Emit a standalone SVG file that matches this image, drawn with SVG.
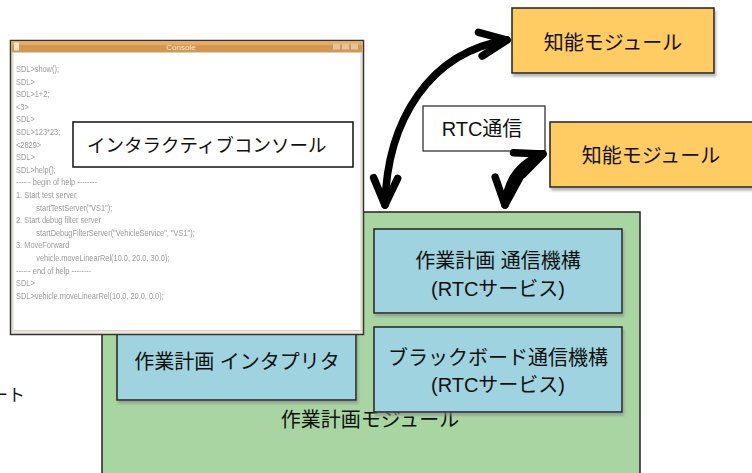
<svg xmlns="http://www.w3.org/2000/svg" width="752" height="473" viewBox="0 0 752 473">
<style>
.jp{font-family:"Liberation Sans","Noto Sans CJK JP",sans-serif;fill:#111;}
.lbl{font-size:20px;text-anchor:middle;}
.box{stroke:#222;stroke-width:1.5;}
.orange{fill:#FFCB63;}
.blue{fill:#A0D3E0;}
.green{fill:#A8D5A2;}
.con{font-family:"Liberation Sans",sans-serif;font-size:9.5px;fill:#9a9a9a;}
.arrow{fill:none;stroke:#000;stroke-width:7.5;stroke-linecap:round;marker-start:url(#chev);marker-end:url(#chev);}
</style>
<defs>
<filter id="sh" x="-5%" y="-5%" width="115%" height="125%">
<feDropShadow dx="1.5" dy="3" stdDeviation="1" flood-color="#888" flood-opacity="0.6"/>
</filter>
<filter id="blur" x="-2%" y="-2%" width="104%" height="104%">
<feGaussianBlur stdDeviation="0.35"/>
</filter>
<marker id="chev" markerUnits="userSpaceOnUse" viewBox="-34 -20 40 40" refX="0" refY="0" markerWidth="40" markerHeight="40" orient="auto-start-reverse" overflow="visible">
<path d="M -27 -12 L 0 0 L -27 12" fill="none" stroke="#000" stroke-width="7.5" stroke-linecap="round" stroke-linejoin="round"/>
</marker>
</defs>
<rect width="752" height="473" fill="#fff"/>

<text class="jp" x="-9" y="401" font-size="17">ート</text>

<g id="module">
<rect class="box green" x="102" y="212" width="538" height="270"/>
<text class="jp lbl" x="370" y="427">作業計画モジュール</text>
</g>

<g id="interpreter">
<rect class="box blue" x="117" y="310" width="239" height="90" filter="url(#sh)"/>
<text class="jp lbl" x="237" y="369">作業計画 インタプリタ</text>
</g>

<g id="comm">
<rect class="box blue" x="374" y="229" width="248" height="84" filter="url(#sh)"/>
<text class="jp lbl" x="498" y="268" font-size="21">作業計画 通信機構</text>
<text class="jp lbl" x="498" y="296">(RTCサービス)</text>
</g>

<g id="blackboard">
<rect class="box blue" x="374" y="327" width="248" height="85" filter="url(#sh)"/>
<text class="jp lbl" x="498" y="365">ブラックボード通信機構</text>
<text class="jp lbl" x="498" y="392">(RTCサービス)</text>
</g>

<g id="console-window">
<rect x="10.5" y="40.5" width="353" height="294" fill="#EEE6DA" stroke="#333" stroke-width="1.5"/>
<rect x="11.5" y="41" width="351" height="11.5" fill="#D6964E"/>
<rect x="11.5" y="41" width="351" height="4" fill="#E2AC6A"/>
<rect x="14" y="42.5" width="5" height="8" fill="#F2E3CF"/>
<text x="181" y="50" font-family="Liberation Sans,sans-serif" font-size="8" fill="#F6E6CC" text-anchor="middle">Console</text>
<rect x="333" y="43.5" width="7" height="6" fill="#E6C39A"/>
<rect x="342" y="43.5" width="7" height="6" fill="#E6C39A"/>
<rect x="351" y="43.5" width="7" height="6" fill="#E6C39A"/>
<rect x="13" y="52.5" width="348" height="278" fill="#fff" stroke="#d8d0c4" stroke-width="1"/>
<g filter="url(#blur)" transform="translate(16,0) scale(0.78,1)">
<text class="con" x="0" y="72">SDL&gt;show();</text>
<text class="con" x="0" y="84.6">SDL&gt;</text>
<text class="con" x="0" y="97.2">SDL&gt;1+2;</text>
<text class="con" x="0" y="109.8">&lt;3&gt;</text>
<text class="con" x="0" y="122.4">SDL&gt;</text>
<text class="con" x="0" y="135">SDL&gt;123*23;</text>
<text class="con" x="0" y="147.6">&lt;2829&gt;</text>
<text class="con" x="0" y="160.2">SDL&gt;</text>
<text class="con" x="0" y="172.8">SDL&gt;help();</text>
<text class="con" x="0" y="185.4">------ begin of help --------</text>
<text class="con" x="0" y="198">1. Start test server</text>
<text class="con" x="26" y="210.6">startTestServer("VS1");</text>
<text class="con" x="0" y="223.2">2. Start debug filter server</text>
<text class="con" x="26" y="235.8">startDebugFilterServer("VehicleService", "VS1");</text>
<text class="con" x="0" y="248.4">3. MoveForward</text>
<text class="con" x="26" y="261">vehicle.moveLinearRel(10.0, 20.0, 30.0);</text>
<text class="con" x="0" y="273.6">------ end of help --------</text>
<text class="con" x="0" y="286.2">SDL&gt;</text>
<text class="con" x="0" y="298.8">SDL&gt;vehicle.moveLinearRel(10.0, 20.0, 0.0);</text>
</g>
</g>

<g id="console-label">
<rect x="73" y="122" width="280" height="45" fill="#fff" stroke="#111" stroke-width="1.5"/>
<text class="jp" x="87" y="152" font-size="18.5">インタラクティブコンソール</text>
</g>

<g id="rtc-label">
<rect x="423" y="106" width="122" height="45" fill="#fff" stroke="#222" stroke-width="1.2"/>
<text class="jp lbl" x="482" y="136">RTC通信</text>
</g>

<g id="intel1">
<rect class="box orange" x="512" y="8" width="202" height="65" filter="url(#sh)"/>
<text class="jp lbl" x="613" y="50">知能モジュール</text>
</g>

<g id="intel2">
<rect class="box orange" x="550" y="122" width="204" height="65" filter="url(#sh)"/>
<text class="jp lbl" x="651" y="163">知能モジュール</text>
</g>

<g id="connectors">
<path class="arrow" d="M 385 205 C 387 120 430 52 507 40"/>
<path class="arrow" d="M 505 205 C 507 180 520 163 543 154"/>
</g>
</svg>
